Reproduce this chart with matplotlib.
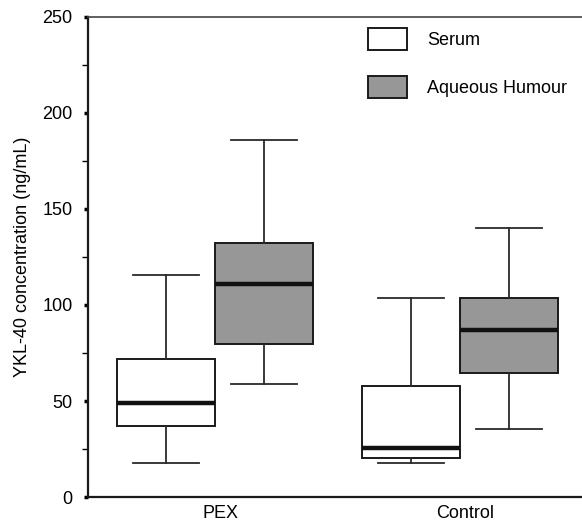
import matplotlib
matplotlib.use("Agg")
import matplotlib.pyplot as plt
from matplotlib.patches import Patch
from matplotlib.transforms import ScaledTranslation

plt.rcParams['font.family'] = ['Liberation Sans', 'DejaVu Sans']

# box statistics (ng/mL)
groups = ['PEX', 'Control']
serum_low = [17.8, 17.8]
serum_q1 = [36.9, 20.4]
serum_med = [49.0, 25.3]
serum_q3 = [71.7, 58.0]
serum_high = [115.4, 103.8]

aq_low = [58.7, 35.2]
aq_q1 = [79.9, 64.8]
aq_med = [110.7, 87.2]
aq_q3 = [132.5, 103.8]
aq_high = [186.0, 140.2]

yticks = [0, 50, 100, 150, 200, 250]


def make_stats(low, q1, med, q3, high):
    return [dict(whislo=a, q1=b, med=c, q3=d, whishi=e, fliers=[])
            for a, b, c, d, e in zip(low, q1, med, q3, high)]


fig = plt.figure(figsize=(5.82, 5.24), dpi=100)
ax = fig.add_axes([0.1512, 0.0515, 0.8488, 0.9161])

serum_stats = make_stats(serum_low, serum_q1, serum_med, serum_q3, serum_high)
aq_stats = make_stats(aq_low, aq_q1, aq_med, aq_q3, aq_high)

centers = [1, 2]
edge = '#1a1a1a'
gray = '#979797'
common = dict(
    widths=0.4, capwidths=0.27, patch_artist=True, showfliers=False,
    medianprops=dict(color='#111111', linewidth=3.2, solid_capstyle='butt'),
    whiskerprops=dict(color='#2a2a2a', linewidth=1.3),
    capprops=dict(color='#2a2a2a', linewidth=1.3),
)
ax.bxp(serum_stats, positions=[c - 0.2 for c in centers],
       boxprops=dict(facecolor='white', edgecolor=edge, linewidth=1.4), **common)
ax.bxp(aq_stats, positions=[c + 0.2 for c in centers],
       boxprops=dict(facecolor=gray, edgecolor=edge, linewidth=1.4), **common)

ax.set_xlim(0.48, 2.5)
ax.set_ylim(0, 250)
ax.set_xticks(centers)
ax.set_xticklabels(groups, fontsize=13)
ax.tick_params(axis='x', length=0, pad=6)
# labels sit a touch right of the group centre in the original
for lbl in ax.get_xticklabels():
    lbl.set_transform(lbl.get_transform() + ScaledTranslation(5 / 100, 0, fig.dpi_scale_trans))
ax.set_yticks(yticks)
ax.set_yticks([25, 75, 125, 175, 225], minor=True)
ax.tick_params(axis='y', which='major', length=3, width=2.5, labelsize=13, pad=8)
ax.tick_params(axis='y', which='minor', length=4, width=1)
ax.set_ylabel('YKL-40 concentration (ng/mL)', fontsize=13, labelpad=8)

ax.spines['right'].set_visible(False)
for s in ['left', 'bottom']:
    ax.spines[s].set_linewidth(1.6)
    ax.spines[s].set_color('#1a1a1a')
ax.spines['top'].set_linewidth(1.2)
ax.spines['top'].set_color('#444444')

handles = [Patch(facecolor='white', edgecolor=edge, linewidth=1.4),
           Patch(facecolor=gray, edgecolor=edge, linewidth=1.4)]
ax.legend(handles, ['Serum', 'Aqueous Humour'], loc='upper left',
          bbox_to_anchor=(368 / 582, 1 - 28 / 524), bbox_transform=fig.transFigure,
          frameon=False, fontsize=13, borderpad=0, borderaxespad=0,
          handlelength=2.16, handleheight=1.5, labelspacing=1.45, handletextpad=1.1)

fig.savefig('out.png', dpi=100)
